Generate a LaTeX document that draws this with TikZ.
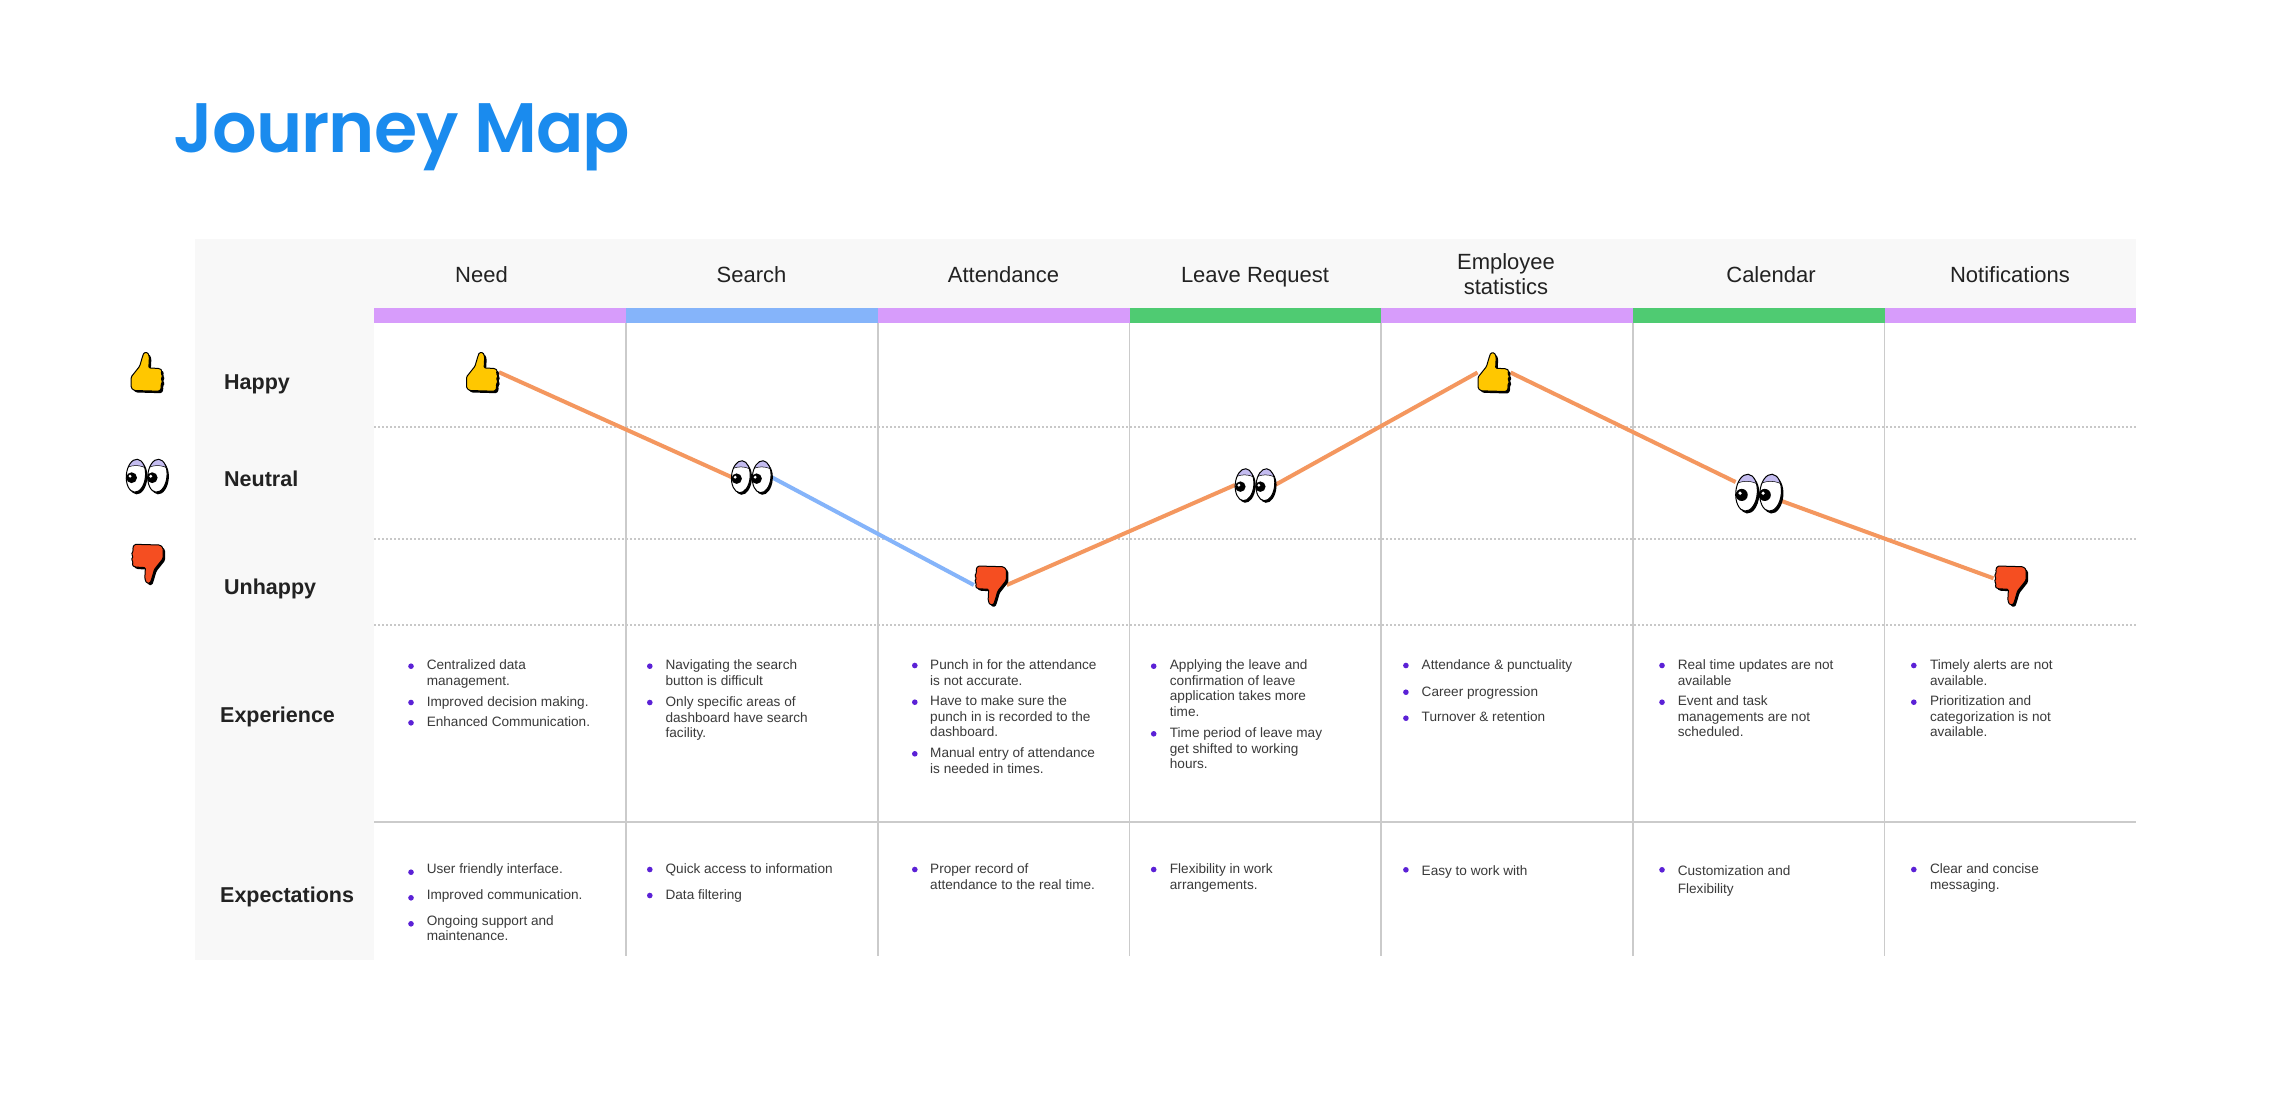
\documentclass[tikz,border=0pt]{standalone}
\usepackage{fontspec}
\setmainfont{Liberation Sans}
\newfontfamily\titlefont[LetterSpace=-1.4]{Poppins SemiBold}
\definecolor{panelbg}{HTML}{F8F8F8}
\definecolor{titleblue}{HTML}{1A8BEE}
\definecolor{bandpurple}{HTML}{D79CFB}
\definecolor{bandblue}{HTML}{85B4FA}
\definecolor{bandgreen}{HTML}{4FCB72}
\definecolor{gridgray}{HTML}{CBCBCB}
\definecolor{dotgray}{HTML}{C8C8C8}
\definecolor{curveorange}{HTML}{F4975F}
\definecolor{bulletviolet}{HTML}{5B21D6}
\definecolor{thumbyellow}{HTML}{FFC700}
\definecolor{thumbred}{HTML}{F54E21}
\definecolor{lidlav}{HTML}{C4BCF0}
\definecolor{inktext}{HTML}{222222}
\definecolor{bodyink}{HTML}{3A3A3A}
\tikzset{
  x=1pt,y=-1pt,
  headertxt/.style={anchor=base,inner sep=0,yshift=-0.6pt,text=inktext,font=\fontsize{22}{25.5}\selectfont},
  rowtxt/.style={anchor=base west,inner sep=0,yshift=-0.5pt,text=inktext,font=\fontsize{21.5}{25}\selectfont\bfseries},
  bodytxt/.style={anchor=base west,inner sep=0,yshift=-0.8pt,text=bodyink,font=\fontsize{13.6}{15.5}\selectfont},
  dotbul/.style={circle,fill=bulletviolet,inner sep=0,yshift=-0.5pt,minimum size=5.6pt},
  iconbox/.style={inner sep=0,outer sep=0},
  colline/.style={draw=gridgray,line width=1.8pt},
  dotline/.style={draw=dotgray,line width=1.3pt,dash pattern=on 2pt off 2pt},
  curve/.style={line width=4pt},
}
\newcommand\bitem[6]{%
  \node[dotbul] (#1-b) at (#2,#3) {};
  \node[bodytxt] (#1) at (#4,#5) {\begin{tabular}[t]{@{}l@{}}#6\end{tabular}};
}
\newcommand\thumbshape{(-16,4.7) -- (-7.5,-6) -- (-4.8,-15.3) -- (-3.2,-19.7) -- (0.5,-19.7) -- (2.2,-15.3) -- (1.6,-4.3) -- (12.3,-3.7) -- (15,-1.7) -- (13.7,1.3) -- (15.7,3.7) -- (13.7,7) -- (15.7,9) -- (13.7,12.3) -- (14.3,15.7) -- (12.3,19) -- (-13,18.3) -- (-16,15.7) -- cycle}
% name, x, y, rotation, colour
\newcommand\thumbicon[5]{%
  \node[iconbox,minimum width=33pt,minimum height=40pt] (#1) at (#2,#3) {};
  \fill[black,rounded corners=1.2pt,shift={(#1.center)},shift={(2,2)},rotate=#4] \thumbshape;
  \filldraw[fill=#5,draw=black,line width=1pt,rounded corners=1.2pt,shift={(#1.center)},rotate=#4] \thumbshape;
}
\newcommand\oneeye[2]{% cx, pupil x
  \begin{scope}[shift={(#1,-0.3)}]
    \fill[black,rotate=-5,shift={(2,2)}] (0,0) ellipse [x radius=9.6,y radius=16.5];
    \begin{scope}
      \path[clip,rotate=-5] (0,0) ellipse [x radius=9.6,y radius=16.5];
      \fill[white] (-12,-18) rectangle (12,18);
      \fill[lidlav] (-12,-20) -- (12,-20) -- (12,-6) .. controls (6,-11.5) and (-6,-11.5) .. (-12,-6) -- cycle;
      \draw[black,line width=.5pt] (12,-6) .. controls (6,-11.5) and (-6,-11.5) .. (-12,-6);
    \end{scope}
    \draw[black,line width=1pt,rotate=-5] (0,0) ellipse [x radius=9.6,y radius=16.5];
    \fill[black] (#2,2) circle (5.4);
    \fill[white] (#2-1.5,0.5) circle (1.6);
  \end{scope}
}
% name, x, y, scale
\newcommand\eyesicon[4]{%
  \node[iconbox,minimum width=#4*41pt,minimum height=#4*35pt] (#1) at (#2,#3) {};
  \begin{scope}[shift={(#1.center)},scale=#4]
    \oneeye{-10.8}{-4.3}
    \oneeye{10.7}{-5.2}
  \end{scope}
}
\begin{document}
\begin{tikzpicture}
\useasboundingbox (0,0) rectangle (2270,1104);
\fill[white] (0,0) rectangle (2270,1104);
% panel
\fill[panelbg] (194.5,239) rectangle (374,960);
\fill[panelbg] (374,239) rectangle (2136,307.5);
% bands
\fill[bandpurple] (374,307.5) rectangle (626,323);
\fill[bandblue] (626,307.5) rectangle (877.7,323);
\fill[bandpurple] (877.7,307.5) rectangle (1129.5,323);
\fill[bandgreen] (1129.5,307.5) rectangle (1381,323);
\fill[bandpurple] (1381,307.5) rectangle (1633,323);
\fill[bandgreen] (1633,307.5) rectangle (1884.5,323);
\fill[bandpurple] (1884.5,307.5) rectangle (2136,323);
% grid
\draw[dotline] (374,427) -- (2136,427);
\draw[dotline] (374,539) -- (2136,539);
\draw[dotline] (374,625) -- (2136,625);
\draw[colline] (374,822) -- (2136,822);
\foreach \cx in {626,877.7,1129.5,1381,1633,1884.5}{\draw[colline] (\cx,323) -- (\cx,956);}
% title
\node[anchor=base west,inner sep=0,text=titleblue,font=\titlefont\fontsize{70}{80}\selectfont] (title) at (173.5,152.7) {Journey Map};
% headers
\node[headertxt] (hneed) at (481.5,281.7) {Need};
\node[headertxt] (hsearch) at (751.5,281.7) {Search};
\node[headertxt] (hatt) at (1003.5,281.7) {Attendance};
\node[headertxt] (hleave) at (1255,281.7) {Leave Request};
\node[headertxt] (hemp) at (1506,268.5) {\begin{tabular}[t]{@{}c@{}}Employee\\statistics\end{tabular}};
\node[headertxt] (hcal) at (1771,281.7) {Calendar};
\node[headertxt] (hnot) at (2010,281.7) {Notifications};
% row labels
\node[rowtxt] (rhappy) at (224,388.7) {Happy};
\node[rowtxt] (rneutral) at (224,485.7) {Neutral};
\node[rowtxt] (runhappy) at (224,594) {Unhappy};
\node[rowtxt] (rexp) at (220,721.7) {Experience};
\node[rowtxt] (rexpect) at (220,901.7) {Expectations};
% curve runs between the icon boxes; the icons are drawn over it
\node[iconbox,minimum width=33pt,minimum height=40pt] (th1) at (482.5,372.2) {};
\node[iconbox,minimum width=40pt,minimum height=35pt] (ey1) at (751.3,477) {};
\node[iconbox,minimum width=33pt,minimum height=40pt] (td1) at (990.3,585) {};
\node[iconbox,minimum width=40pt,minimum height=35pt] (ey2) at (1255,485) {};
\node[iconbox,minimum width=33pt,minimum height=40pt] (th2) at (1494,372.5) {};
\node[iconbox,minimum width=46pt,minimum height=40pt] (ey3) at (1758.6,493) {};
\node[iconbox,minimum width=33pt,minimum height=40pt] (td2) at (2010,585) {};
\draw[curve,draw=curveorange] (th1.east) -- (ey1.west);
\draw[curve,draw=bandblue] (ey1.east) -- (td1.west);
\draw[curve,draw=curveorange] (td1.east) -- (ey2.west);
\draw[curve,draw=curveorange] (ey2.east) -- (th2.west);
\draw[curve,draw=curveorange] (th2.east) -- ([yshift=11pt]ey3.west);
\draw[curve,draw=curveorange] ([yshift=-8pt]ey3.east) -- ([yshift=6.7pt]td2.west);
% icons
\thumbicon{lth}{147.2}{372.2}{0}{thumbyellow}
\eyesicon{ley}{146.7}{476}{1}
\thumbicon{ltd}{147}{563.3}{180}{thumbred}
\thumbicon{th1i}{482.5}{372.2}{0}{thumbyellow}
\eyesicon{ey1i}{751.3}{477}{0.97}
\thumbicon{td1i}{990.3}{585}{180}{thumbred}
\eyesicon{ey2i}{1255}{485}{0.97}
\thumbicon{th2i}{1494}{372.5}{0}{thumbyellow}
\eyesicon{ey3i}{1758.6}{493}{1.12}
\thumbicon{td2i}{2010}{585}{180}{thumbred}
% experience
\bitem{a1}{411}{665.7}{426.6}{669}{Centralized data\\management.}
\bitem{a2}{411}{702}{426.6}{706}{Improved decision making.}
\bitem{a3}{411}{722.3}{426.6}{726}{Enhanced Communication.}
\bitem{b1}{649.8}{665.7}{665.4}{669}{Navigating the search\\button is difficult}
\bitem{b2}{649.8}{702}{665.4}{706}{Only specific areas of\\dashboard have search\\facility.}
\bitem{c1}{914.8}{665}{930}{668.7}{Punch in for the attendance\\is not accurate.}
\bitem{c2}{914.8}{701.7}{930}{705}{Have to make sure the\\punch in is recorded to the\\dashboard.}
\bitem{c3}{914.8}{753.3}{930}{757}{Manual entry of attendance\\is needed in times.}
\bitem{d1}{1153.7}{665.7}{1169.7}{669}{Applying the leave and\\confirmation of leave\\application takes more\\time.}
\bitem{d2}{1153.7}{733.3}{1169.7}{736.7}{Time period of leave may\\get shifted to working\\hours.}
\bitem{e1}{1405.9}{665}{1421.5}{668.7}{Attendance \& punctuality}
\bitem{e2}{1405.9}{691.7}{1421.5}{695.3}{Career progression}
\bitem{e3}{1405.9}{717.7}{1421.5}{721}{Turnover \& retention}
\bitem{f1}{1662}{665}{1677.6}{668.7}{Real time updates are not\\available}
\bitem{f2}{1662}{701.7}{1677.6}{705}{Event and task\\managements are not\\scheduled.}
\bitem{g1}{1913.8}{665}{1929.8}{668.7}{Timely alerts are not\\available.}
\bitem{g2}{1913.8}{701.7}{1929.8}{705}{Prioritization and\\categorization is not\\available.}
% expectations
\bitem{p1}{411}{871.7}{426.6}{872.7}{User friendly interface.}
\bitem{p2}{411}{897.3}{426.6}{898.3}{Improved communication.}
\bitem{p3}{411}{923.3}{426.6}{924.3}{Ongoing support and\\maintenance.}
\bitem{q1}{649.8}{869}{665.4}{872.7}{Quick access to information}
\bitem{q2}{649.8}{895}{665.4}{898.3}{Data filtering}
\bitem{r1}{914.8}{869}{930}{872.7}{Proper record of\\attendance to the real time.}
\bitem{s1}{1153.7}{869}{1169.7}{872.7}{Flexibility in work\\arrangements.}
\bitem{t1}{1405.9}{869.3}{1421.5}{874.3}{Easy to work with}
\bitem{u1}{1662}{869.3}{1677.6}{874.3}{Customization and\\[2.5pt]Flexibility}
\bitem{v1}{1913.8}{869}{1929.8}{872.7}{Clear and concise\\messaging.}
\end{tikzpicture}
\end{document}
